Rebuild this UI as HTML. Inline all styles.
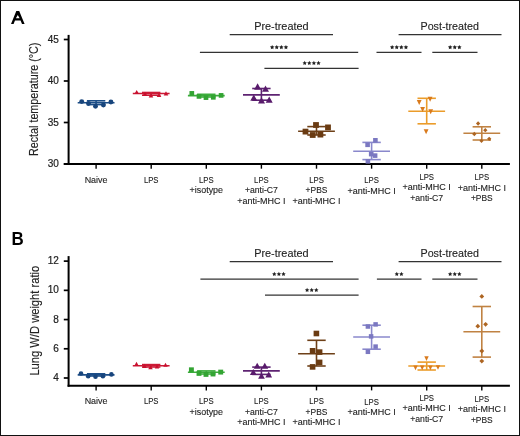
<!DOCTYPE html>
<html><head><meta charset="utf-8"><style>
html,body{margin:0;padding:0;background:#fff;}
body{width:520px;height:436px;overflow:hidden;}
svg{display:block;font-family:"Liberation Sans", sans-serif;will-change:transform;}
.tk{stroke:#222;stroke-width:0.2px;}
.cl{stroke:#222;stroke-width:0.12px;}
.yl{stroke:#222;stroke-width:0.15px;}
</style></head><body>
<svg width="520" height="436" viewBox="0 0 520 436">
<rect x="0" y="0" width="520" height="436" fill="#fff"/>
<path d="M11.0,23.9 L16.3,11.0 L19.2,11.0 L24.6,23.9 L22.0,23.9 L20.58,20.5 L15.0,20.5 L13.6,23.9 Z M17.77,15.1 L15.9,18.35 L19.65,18.35 Z" fill="#000" fill-rule="evenodd"/>
<line x1="68.6" y1="34.9" x2="68.6" y2="165.0" stroke="#000" stroke-width="2"/>
<line x1="63.8" y1="164.0" x2="509.9" y2="164.0" stroke="#000" stroke-width="2"/>
<line x1="63.8" y1="39.50" x2="68.6" y2="39.50" stroke="#000" stroke-width="1.7"/>
<text x="58.9" y="42.59999999999999" font-size="10.0" text-anchor="end" font-weight="400" fill="#222" class="tk">45</text>
<line x1="63.8" y1="81.00" x2="68.6" y2="81.00" stroke="#000" stroke-width="1.7"/>
<text x="58.9" y="84.1" font-size="10.0" text-anchor="end" font-weight="400" fill="#222" class="tk">40</text>
<line x1="63.8" y1="122.50" x2="68.6" y2="122.50" stroke="#000" stroke-width="1.7"/>
<text x="58.9" y="125.6" font-size="10.0" text-anchor="end" font-weight="400" fill="#222" class="tk">35</text>
<line x1="63.8" y1="164.00" x2="68.6" y2="164.00" stroke="#000" stroke-width="1.7"/>
<text x="58.9" y="167.1" font-size="10.0" text-anchor="end" font-weight="400" fill="#222" class="tk">30</text>
<line x1="96.1" y1="164.0" x2="96.1" y2="168.7" stroke="#000" stroke-width="1.4"/>
<line x1="151.2" y1="164.0" x2="151.2" y2="168.7" stroke="#000" stroke-width="1.4"/>
<line x1="206.3" y1="164.0" x2="206.3" y2="168.7" stroke="#000" stroke-width="1.4"/>
<line x1="261.4" y1="164.0" x2="261.4" y2="168.7" stroke="#000" stroke-width="1.4"/>
<line x1="316.5" y1="164.0" x2="316.5" y2="168.7" stroke="#000" stroke-width="1.4"/>
<line x1="371.6" y1="164.0" x2="371.6" y2="168.7" stroke="#000" stroke-width="1.4"/>
<line x1="426.7" y1="164.0" x2="426.7" y2="168.7" stroke="#000" stroke-width="1.4"/>
<line x1="481.8" y1="164.0" x2="481.8" y2="168.7" stroke="#000" stroke-width="1.4"/>
<text x="0" y="0" font-size="12.8" text-anchor="middle" fill="#222" class="yl" textLength="113.4" lengthAdjust="spacingAndGlyphs" transform="translate(38.3,99.3) rotate(-90)">Rectal temperature (°C)</text>
<text x="96.1" y="182.50" font-size="9.3" text-anchor="middle" font-weight="400" fill="#222" class="cl" textLength="22.9" lengthAdjust="spacingAndGlyphs">Naive</text>
<text x="151.2" y="182.50" font-size="9.3" text-anchor="middle" font-weight="400" fill="#222" class="cl" textLength="14.6" lengthAdjust="spacingAndGlyphs">LPS</text>
<text x="206.3" y="182.50" font-size="9.3" text-anchor="middle" font-weight="400" fill="#222" class="cl" textLength="14.6" lengthAdjust="spacingAndGlyphs">LPS</text>
<text x="206.3" y="193.00" font-size="9.3" text-anchor="middle" font-weight="400" fill="#222" class="cl" textLength="33.5" lengthAdjust="spacingAndGlyphs">+isotype</text>
<text x="261.4" y="182.50" font-size="9.3" text-anchor="middle" font-weight="400" fill="#222" class="cl" textLength="14.6" lengthAdjust="spacingAndGlyphs">LPS</text>
<text x="261.4" y="193.00" font-size="9.3" text-anchor="middle" font-weight="400" fill="#222" class="cl" textLength="33.0" lengthAdjust="spacingAndGlyphs">+anti-C7</text>
<text x="261.4" y="203.50" font-size="9.3" text-anchor="middle" font-weight="400" fill="#222" class="cl" textLength="48.2" lengthAdjust="spacingAndGlyphs">+anti-MHC I</text>
<text x="316.5" y="182.50" font-size="9.3" text-anchor="middle" font-weight="400" fill="#222" class="cl" textLength="14.6" lengthAdjust="spacingAndGlyphs">LPS</text>
<text x="316.5" y="193.00" font-size="9.3" text-anchor="middle" font-weight="400" fill="#222" class="cl" textLength="21.8" lengthAdjust="spacingAndGlyphs">+PBS</text>
<text x="316.5" y="203.50" font-size="9.3" text-anchor="middle" font-weight="400" fill="#222" class="cl" textLength="48.2" lengthAdjust="spacingAndGlyphs">+anti-MHC I</text>
<text x="371.6" y="183.10" font-size="9.3" text-anchor="middle" font-weight="400" fill="#222" class="cl" textLength="14.6" lengthAdjust="spacingAndGlyphs">LPS</text>
<text x="371.6" y="193.60" font-size="9.3" text-anchor="middle" font-weight="400" fill="#222" class="cl" textLength="48.2" lengthAdjust="spacingAndGlyphs">+anti-MHC I</text>
<text x="426.7" y="179.60" font-size="9.3" text-anchor="middle" font-weight="400" fill="#222" class="cl" textLength="14.6" lengthAdjust="spacingAndGlyphs">LPS</text>
<text x="426.7" y="190.10" font-size="9.3" text-anchor="middle" font-weight="400" fill="#222" class="cl" textLength="48.2" lengthAdjust="spacingAndGlyphs">+anti-MHC I</text>
<text x="426.7" y="200.60" font-size="9.3" text-anchor="middle" font-weight="400" fill="#222" class="cl" textLength="33.0" lengthAdjust="spacingAndGlyphs">+anti-C7</text>
<text x="481.8" y="180.30" font-size="9.3" text-anchor="middle" font-weight="400" fill="#222" class="cl" textLength="14.6" lengthAdjust="spacingAndGlyphs">LPS</text>
<text x="481.8" y="190.80" font-size="9.3" text-anchor="middle" font-weight="400" fill="#222" class="cl" textLength="48.2" lengthAdjust="spacingAndGlyphs">+anti-MHC I</text>
<text x="481.8" y="201.30" font-size="9.3" text-anchor="middle" font-weight="400" fill="#222" class="cl" textLength="21.8" lengthAdjust="spacingAndGlyphs">+PBS</text>
<line x1="77.70" y1="102.80" x2="114.50" y2="102.80" stroke="#1c4e88" stroke-width="1.6"/>
<line x1="96.10" y1="100.80" x2="96.10" y2="104.60" stroke="#1c4e88" stroke-width="1.6"/>
<line x1="86.90" y1="100.80" x2="105.30" y2="100.80" stroke="#1c4e88" stroke-width="1.6"/>
<line x1="86.90" y1="104.60" x2="105.30" y2="104.60" stroke="#1c4e88" stroke-width="1.6"/>
<circle cx="81.70" cy="101.60" r="2.45" fill="#18457c"/>
<circle cx="88.50" cy="103.50" r="2.45" fill="#18457c"/>
<circle cx="95.50" cy="106.30" r="2.45" fill="#18457c"/>
<circle cx="103.40" cy="105.00" r="2.45" fill="#18457c"/>
<circle cx="110.90" cy="102.00" r="2.45" fill="#18457c"/>
<line x1="132.80" y1="93.50" x2="169.60" y2="93.50" stroke="#cc1a36" stroke-width="1.6"/>
<line x1="151.20" y1="92.50" x2="151.20" y2="95.20" stroke="#cc1a36" stroke-width="1.6"/>
<line x1="142.00" y1="92.50" x2="160.40" y2="92.50" stroke="#cc1a36" stroke-width="1.6"/>
<line x1="142.00" y1="95.20" x2="160.40" y2="95.20" stroke="#cc1a36" stroke-width="1.6"/>
<polygon points="136.70,89.92 139.00,94.06 134.40,94.06" fill="#c8102e"/>
<polygon points="145.00,91.72 147.30,95.86 142.70,95.86" fill="#c8102e"/>
<polygon points="151.00,93.32 153.30,97.46 148.70,97.46" fill="#c8102e"/>
<polygon points="159.00,92.92 161.30,97.06 156.70,97.06" fill="#c8102e"/>
<polygon points="166.00,91.32 168.30,95.46 163.70,95.46" fill="#c8102e"/>
<line x1="187.90" y1="95.60" x2="224.70" y2="95.60" stroke="#3dad3d" stroke-width="1.6"/>
<line x1="206.30" y1="94.30" x2="206.30" y2="97.00" stroke="#3dad3d" stroke-width="1.6"/>
<line x1="197.10" y1="94.30" x2="215.50" y2="94.30" stroke="#3dad3d" stroke-width="1.6"/>
<line x1="197.10" y1="97.00" x2="215.50" y2="97.00" stroke="#3dad3d" stroke-width="1.6"/>
<rect x="189.45" y="91.05" width="4.70" height="4.70" fill="#33a433"/>
<rect x="196.65" y="94.05" width="4.70" height="4.70" fill="#33a433"/>
<rect x="203.65" y="95.25" width="4.70" height="4.70" fill="#33a433"/>
<rect x="210.95" y="94.95" width="4.70" height="4.70" fill="#33a433"/>
<rect x="218.75" y="93.05" width="4.70" height="4.70" fill="#33a433"/>
<line x1="243.00" y1="94.90" x2="279.80" y2="94.90" stroke="#5e2372" stroke-width="1.6"/>
<line x1="261.40" y1="88.50" x2="261.40" y2="100.20" stroke="#5e2372" stroke-width="1.6"/>
<line x1="252.20" y1="88.50" x2="270.60" y2="88.50" stroke="#5e2372" stroke-width="1.6"/>
<line x1="252.20" y1="100.20" x2="270.60" y2="100.20" stroke="#5e2372" stroke-width="1.6"/>
<polygon points="257.60,83.33 261.10,89.63 254.10,89.63" fill="#581a6b"/>
<polygon points="265.50,85.53 269.00,91.83 262.00,91.83" fill="#581a6b"/>
<polygon points="253.80,94.53 257.30,100.83 250.30,100.83" fill="#581a6b"/>
<polygon points="261.50,97.23 265.00,103.53 258.00,103.53" fill="#581a6b"/>
<polygon points="269.20,96.44 272.70,102.73 265.70,102.73" fill="#581a6b"/>
<line x1="298.10" y1="131.20" x2="334.90" y2="131.20" stroke="#6e4018" stroke-width="1.6"/>
<line x1="316.50" y1="126.60" x2="316.50" y2="135.00" stroke="#6e4018" stroke-width="1.6"/>
<line x1="307.30" y1="126.60" x2="325.70" y2="126.60" stroke="#6e4018" stroke-width="1.6"/>
<line x1="307.30" y1="135.00" x2="325.70" y2="135.00" stroke="#6e4018" stroke-width="1.6"/>
<rect x="313.10" y="122.10" width="5.80" height="5.80" fill="#6a3b12"/>
<rect x="325.10" y="124.50" width="5.80" height="5.80" fill="#6a3b12"/>
<rect x="302.60" y="128.70" width="5.80" height="5.80" fill="#6a3b12"/>
<rect x="309.80" y="132.10" width="5.80" height="5.80" fill="#6a3b12"/>
<rect x="317.50" y="131.70" width="5.80" height="5.80" fill="#6a3b12"/>
<line x1="353.20" y1="151.20" x2="390.00" y2="151.20" stroke="#8a88cc" stroke-width="1.6"/>
<line x1="371.60" y1="142.40" x2="371.60" y2="159.60" stroke="#8a88cc" stroke-width="1.6"/>
<line x1="362.40" y1="142.40" x2="380.80" y2="142.40" stroke="#8a88cc" stroke-width="1.6"/>
<line x1="362.40" y1="159.60" x2="380.80" y2="159.60" stroke="#8a88cc" stroke-width="1.6"/>
<rect x="373.10" y="138.00" width="4.60" height="4.60" fill="#7b78c1"/>
<rect x="365.30" y="142.50" width="4.60" height="4.60" fill="#7b78c1"/>
<rect x="368.90" y="151.80" width="4.60" height="4.60" fill="#7b78c1"/>
<rect x="372.80" y="153.30" width="4.60" height="4.60" fill="#7b78c1"/>
<rect x="365.60" y="159.00" width="4.60" height="4.60" fill="#7b78c1"/>
<line x1="408.30" y1="111.20" x2="445.10" y2="111.20" stroke="#eb9c2a" stroke-width="1.6"/>
<line x1="426.70" y1="98.30" x2="426.70" y2="123.80" stroke="#eb9c2a" stroke-width="1.6"/>
<line x1="417.50" y1="98.30" x2="435.90" y2="98.30" stroke="#eb9c2a" stroke-width="1.6"/>
<line x1="417.50" y1="123.80" x2="435.90" y2="123.80" stroke="#eb9c2a" stroke-width="1.6"/>
<polygon points="419.20,105.02 421.60,99.98 416.80,99.98" fill="#d97a1c"/>
<polygon points="430.10,101.82 432.50,96.78 427.70,96.78" fill="#d97a1c"/>
<polygon points="422.60,111.92 425.00,106.88 420.20,106.88" fill="#d97a1c"/>
<polygon points="430.70,114.22 433.10,109.18 428.30,109.18" fill="#d97a1c"/>
<polygon points="426.10,134.32 428.50,129.28 423.70,129.28" fill="#d97a1c"/>
<line x1="463.40" y1="133.30" x2="500.20" y2="133.30" stroke="#c08242" stroke-width="1.6"/>
<line x1="481.80" y1="126.80" x2="481.80" y2="140.00" stroke="#c08242" stroke-width="1.6"/>
<line x1="472.60" y1="126.80" x2="491.00" y2="126.80" stroke="#c08242" stroke-width="1.6"/>
<line x1="472.60" y1="140.00" x2="491.00" y2="140.00" stroke="#c08242" stroke-width="1.6"/>
<polygon points="478.10,121.35 480.25,123.50 478.10,125.65 475.95,123.50" fill="#ad6522"/>
<polygon points="485.30,128.05 487.45,130.20 485.30,132.35 483.15,130.20" fill="#ad6522"/>
<polygon points="474.30,131.85 476.45,134.00 474.30,136.15 472.15,134.00" fill="#ad6522"/>
<polygon points="481.50,138.65 483.65,140.80 481.50,142.95 479.35,140.80" fill="#ad6522"/>
<polygon points="489.20,136.65 491.35,138.80 489.20,140.95 487.05,138.80" fill="#ad6522"/>
<text x="281.4" y="29.7" font-size="11.4" text-anchor="middle" font-weight="400" fill="#222" class="cl" textLength="54.4" lengthAdjust="spacingAndGlyphs">Pre-treated</text>
<line x1="229.7" y1="34.6" x2="333.0" y2="34.6" stroke="#333" stroke-width="1.2"/>
<line x1="199.9" y1="52.45" x2="358.2" y2="52.45" stroke="#333" stroke-width="1.2"/>
<polygon points="272.15,45.00 272.83,46.37 274.34,46.59 273.24,47.66 273.50,49.16 272.15,48.45 270.80,49.16 271.06,47.66 269.96,46.59 271.47,46.37" fill="#222"/>
<polygon points="276.75,45.00 277.43,46.37 278.94,46.59 277.84,47.66 278.10,49.16 276.75,48.45 275.40,49.16 275.66,47.66 274.56,46.59 276.07,46.37" fill="#222"/>
<polygon points="281.35,45.00 282.03,46.37 283.54,46.59 282.44,47.66 282.70,49.16 281.35,48.45 280.00,49.16 280.26,47.66 279.16,46.59 280.67,46.37" fill="#222"/>
<polygon points="285.95,45.00 286.63,46.37 288.14,46.59 287.04,47.66 287.30,49.16 285.95,48.45 284.60,49.16 284.86,47.66 283.76,46.59 285.27,46.37" fill="#222"/>
<line x1="264.4" y1="68.3" x2="358.6" y2="68.3" stroke="#333" stroke-width="1.2"/>
<polygon points="304.70,60.80 305.38,62.17 306.89,62.39 305.79,63.46 306.05,64.96 304.70,64.25 303.35,64.96 303.61,63.46 302.51,62.39 304.02,62.17" fill="#222"/>
<polygon points="309.30,60.80 309.98,62.17 311.49,62.39 310.39,63.46 310.65,64.96 309.30,64.25 307.95,64.96 308.21,63.46 307.11,62.39 308.62,62.17" fill="#222"/>
<polygon points="313.90,60.80 314.58,62.17 316.09,62.39 314.99,63.46 315.25,64.96 313.90,64.25 312.55,64.96 312.81,63.46 311.71,62.39 313.22,62.17" fill="#222"/>
<polygon points="318.50,60.80 319.18,62.17 320.69,62.39 319.59,63.46 319.85,64.96 318.50,64.25 317.15,64.96 317.41,63.46 316.31,62.39 317.82,62.17" fill="#222"/>
<text x="449.7" y="29.9" font-size="11.4" text-anchor="middle" font-weight="400" fill="#222" class="cl" textLength="58.4" lengthAdjust="spacingAndGlyphs">Post-treated</text>
<line x1="398.6" y1="34.6" x2="501.5" y2="34.6" stroke="#333" stroke-width="1.2"/>
<line x1="376.5" y1="52.45" x2="421.5" y2="52.45" stroke="#333" stroke-width="1.2"/>
<polygon points="392.15,45.00 392.83,46.37 394.34,46.59 393.24,47.66 393.50,49.16 392.15,48.45 390.80,49.16 391.06,47.66 389.96,46.59 391.47,46.37" fill="#222"/>
<polygon points="396.75,45.00 397.43,46.37 398.94,46.59 397.84,47.66 398.10,49.16 396.75,48.45 395.40,49.16 395.66,47.66 394.56,46.59 396.07,46.37" fill="#222"/>
<polygon points="401.35,45.00 402.03,46.37 403.54,46.59 402.44,47.66 402.70,49.16 401.35,48.45 400.00,49.16 400.26,47.66 399.16,46.59 400.67,46.37" fill="#222"/>
<polygon points="405.95,45.00 406.63,46.37 408.14,46.59 407.04,47.66 407.30,49.16 405.95,48.45 404.60,49.16 404.86,47.66 403.76,46.59 405.27,46.37" fill="#222"/>
<line x1="432.3" y1="52.45" x2="477.5" y2="52.45" stroke="#333" stroke-width="1.2"/>
<polygon points="450.15,45.00 450.83,46.37 452.34,46.59 451.24,47.66 451.50,49.16 450.15,48.45 448.80,49.16 449.06,47.66 447.96,46.59 449.47,46.37" fill="#222"/>
<polygon points="454.75,45.00 455.43,46.37 456.94,46.59 455.84,47.66 456.10,49.16 454.75,48.45 453.40,49.16 453.66,47.66 452.56,46.59 454.07,46.37" fill="#222"/>
<polygon points="459.35,45.00 460.03,46.37 461.54,46.59 460.44,47.66 460.70,49.16 459.35,48.45 458.00,49.16 458.26,47.66 457.16,46.59 458.67,46.37" fill="#222"/>
<text x="0" y="0" font-size="18" font-weight="700" fill="#000" transform="translate(11.5,245.3) scale(0.94,1)">B</text>
<line x1="68.6" y1="256.1" x2="68.6" y2="386.7" stroke="#000" stroke-width="2"/>
<line x1="67.6" y1="385.7" x2="509.9" y2="385.7" stroke="#000" stroke-width="2"/>
<line x1="63.8" y1="261.12" x2="68.6" y2="261.12" stroke="#000" stroke-width="1.7"/>
<text x="58.9" y="264.22" font-size="10.0" text-anchor="end" font-weight="400" fill="#222" class="tk">12</text>
<line x1="63.8" y1="290.34" x2="68.6" y2="290.34" stroke="#000" stroke-width="1.7"/>
<text x="58.9" y="293.44000000000005" font-size="10.0" text-anchor="end" font-weight="400" fill="#222" class="tk">10</text>
<line x1="63.8" y1="319.56" x2="68.6" y2="319.56" stroke="#000" stroke-width="1.7"/>
<text x="58.9" y="322.66" font-size="10.0" text-anchor="end" font-weight="400" fill="#222" class="tk">8</text>
<line x1="63.8" y1="348.78" x2="68.6" y2="348.78" stroke="#000" stroke-width="1.7"/>
<text x="58.9" y="351.88" font-size="10.0" text-anchor="end" font-weight="400" fill="#222" class="tk">6</text>
<line x1="63.8" y1="378.00" x2="68.6" y2="378.00" stroke="#000" stroke-width="1.7"/>
<text x="58.9" y="381.1" font-size="10.0" text-anchor="end" font-weight="400" fill="#222" class="tk">4</text>
<line x1="96.1" y1="385.7" x2="96.1" y2="390.4" stroke="#000" stroke-width="1.4"/>
<line x1="151.2" y1="385.7" x2="151.2" y2="390.4" stroke="#000" stroke-width="1.4"/>
<line x1="206.3" y1="385.7" x2="206.3" y2="390.4" stroke="#000" stroke-width="1.4"/>
<line x1="261.4" y1="385.7" x2="261.4" y2="390.4" stroke="#000" stroke-width="1.4"/>
<line x1="316.5" y1="385.7" x2="316.5" y2="390.4" stroke="#000" stroke-width="1.4"/>
<line x1="371.6" y1="385.7" x2="371.6" y2="390.4" stroke="#000" stroke-width="1.4"/>
<line x1="426.7" y1="385.7" x2="426.7" y2="390.4" stroke="#000" stroke-width="1.4"/>
<line x1="481.8" y1="385.7" x2="481.8" y2="390.4" stroke="#000" stroke-width="1.4"/>
<text x="0" y="0" font-size="12.8" text-anchor="middle" fill="#222" class="yl" textLength="109.8" lengthAdjust="spacingAndGlyphs" transform="translate(38.5,320.70000000000005) rotate(-90)">Lung W/D weight ratio</text>
<text x="96.1" y="404.40" font-size="9.3" text-anchor="middle" font-weight="400" fill="#222" class="cl" textLength="22.9" lengthAdjust="spacingAndGlyphs">Naive</text>
<text x="151.2" y="404.40" font-size="9.3" text-anchor="middle" font-weight="400" fill="#222" class="cl" textLength="14.6" lengthAdjust="spacingAndGlyphs">LPS</text>
<text x="206.3" y="404.40" font-size="9.3" text-anchor="middle" font-weight="400" fill="#222" class="cl" textLength="14.6" lengthAdjust="spacingAndGlyphs">LPS</text>
<text x="206.3" y="414.90" font-size="9.3" text-anchor="middle" font-weight="400" fill="#222" class="cl" textLength="33.5" lengthAdjust="spacingAndGlyphs">+isotype</text>
<text x="261.4" y="404.40" font-size="9.3" text-anchor="middle" font-weight="400" fill="#222" class="cl" textLength="14.6" lengthAdjust="spacingAndGlyphs">LPS</text>
<text x="261.4" y="414.90" font-size="9.3" text-anchor="middle" font-weight="400" fill="#222" class="cl" textLength="33.0" lengthAdjust="spacingAndGlyphs">+anti-C7</text>
<text x="261.4" y="425.40" font-size="9.3" text-anchor="middle" font-weight="400" fill="#222" class="cl" textLength="48.2" lengthAdjust="spacingAndGlyphs">+anti-MHC I</text>
<text x="316.5" y="404.40" font-size="9.3" text-anchor="middle" font-weight="400" fill="#222" class="cl" textLength="14.6" lengthAdjust="spacingAndGlyphs">LPS</text>
<text x="316.5" y="414.90" font-size="9.3" text-anchor="middle" font-weight="400" fill="#222" class="cl" textLength="21.8" lengthAdjust="spacingAndGlyphs">+PBS</text>
<text x="316.5" y="425.40" font-size="9.3" text-anchor="middle" font-weight="400" fill="#222" class="cl" textLength="48.2" lengthAdjust="spacingAndGlyphs">+anti-MHC I</text>
<text x="371.6" y="404.60" font-size="9.3" text-anchor="middle" font-weight="400" fill="#222" class="cl" textLength="14.6" lengthAdjust="spacingAndGlyphs">LPS</text>
<text x="371.6" y="415.10" font-size="9.3" text-anchor="middle" font-weight="400" fill="#222" class="cl" textLength="48.2" lengthAdjust="spacingAndGlyphs">+anti-MHC I</text>
<text x="426.7" y="400.90" font-size="9.3" text-anchor="middle" font-weight="400" fill="#222" class="cl" textLength="14.6" lengthAdjust="spacingAndGlyphs">LPS</text>
<text x="426.7" y="411.40" font-size="9.3" text-anchor="middle" font-weight="400" fill="#222" class="cl" textLength="48.2" lengthAdjust="spacingAndGlyphs">+anti-MHC I</text>
<text x="426.7" y="421.90" font-size="9.3" text-anchor="middle" font-weight="400" fill="#222" class="cl" textLength="33.0" lengthAdjust="spacingAndGlyphs">+anti-C7</text>
<text x="481.8" y="401.50" font-size="9.3" text-anchor="middle" font-weight="400" fill="#222" class="cl" textLength="14.6" lengthAdjust="spacingAndGlyphs">LPS</text>
<text x="481.8" y="412.00" font-size="9.3" text-anchor="middle" font-weight="400" fill="#222" class="cl" textLength="48.2" lengthAdjust="spacingAndGlyphs">+anti-MHC I</text>
<text x="481.8" y="422.50" font-size="9.3" text-anchor="middle" font-weight="400" fill="#222" class="cl" textLength="21.8" lengthAdjust="spacingAndGlyphs">+PBS</text>
<line x1="77.70" y1="374.90" x2="114.50" y2="374.90" stroke="#1c4e88" stroke-width="1.6"/>
<line x1="96.10" y1="373.80" x2="96.10" y2="376.00" stroke="#1c4e88" stroke-width="1.6"/>
<line x1="86.90" y1="373.80" x2="105.30" y2="373.80" stroke="#1c4e88" stroke-width="1.6"/>
<line x1="86.90" y1="376.00" x2="105.30" y2="376.00" stroke="#1c4e88" stroke-width="1.6"/>
<circle cx="81.00" cy="373.50" r="2.30" fill="#18457c"/>
<circle cx="88.20" cy="376.30" r="2.30" fill="#18457c"/>
<circle cx="95.50" cy="376.70" r="2.30" fill="#18457c"/>
<circle cx="102.90" cy="376.30" r="2.30" fill="#18457c"/>
<circle cx="111.40" cy="374.40" r="2.30" fill="#18457c"/>
<line x1="132.80" y1="365.80" x2="169.60" y2="365.80" stroke="#cc1a36" stroke-width="1.6"/>
<line x1="151.20" y1="364.60" x2="151.20" y2="367.00" stroke="#cc1a36" stroke-width="1.6"/>
<line x1="142.00" y1="364.60" x2="160.40" y2="364.60" stroke="#cc1a36" stroke-width="1.6"/>
<line x1="142.00" y1="367.00" x2="160.40" y2="367.00" stroke="#cc1a36" stroke-width="1.6"/>
<polygon points="136.50,361.87 138.75,365.92 134.25,365.92" fill="#c8102e"/>
<polygon points="144.50,363.87 146.75,367.92 142.25,367.92" fill="#c8102e"/>
<polygon points="150.50,365.17 152.75,369.22 148.25,369.22" fill="#c8102e"/>
<polygon points="157.00,364.37 159.25,368.42 154.75,368.42" fill="#c8102e"/>
<polygon points="165.50,362.67 167.75,366.72 163.25,366.72" fill="#c8102e"/>
<line x1="187.90" y1="372.20" x2="224.70" y2="372.20" stroke="#3dad3d" stroke-width="1.6"/>
<line x1="206.30" y1="370.90" x2="206.30" y2="374.00" stroke="#3dad3d" stroke-width="1.6"/>
<line x1="197.10" y1="370.90" x2="215.50" y2="370.90" stroke="#3dad3d" stroke-width="1.6"/>
<line x1="197.10" y1="374.00" x2="215.50" y2="374.00" stroke="#3dad3d" stroke-width="1.6"/>
<rect x="188.95" y="367.35" width="4.90" height="4.90" fill="#33a433"/>
<rect x="196.55" y="370.95" width="4.90" height="4.90" fill="#33a433"/>
<rect x="203.55" y="371.95" width="4.90" height="4.90" fill="#33a433"/>
<rect x="210.55" y="371.55" width="4.90" height="4.90" fill="#33a433"/>
<rect x="218.25" y="369.65" width="4.90" height="4.90" fill="#33a433"/>
<line x1="243.00" y1="370.90" x2="279.80" y2="370.90" stroke="#5e2372" stroke-width="1.6"/>
<line x1="261.40" y1="367.10" x2="261.40" y2="374.40" stroke="#5e2372" stroke-width="1.6"/>
<line x1="252.20" y1="367.10" x2="270.60" y2="367.10" stroke="#5e2372" stroke-width="1.6"/>
<line x1="252.20" y1="374.40" x2="270.60" y2="374.40" stroke="#5e2372" stroke-width="1.6"/>
<polygon points="257.20,362.73 260.60,368.85 253.80,368.85" fill="#581a6b"/>
<polygon points="264.80,362.73 268.20,368.85 261.40,368.85" fill="#581a6b"/>
<polygon points="253.30,368.93 256.70,375.05 249.90,375.05" fill="#581a6b"/>
<polygon points="261.50,372.63 264.90,378.75 258.10,378.75" fill="#581a6b"/>
<polygon points="268.70,371.43 272.10,377.55 265.30,377.55" fill="#581a6b"/>
<line x1="298.10" y1="353.70" x2="334.90" y2="353.70" stroke="#6e4018" stroke-width="1.6"/>
<line x1="316.50" y1="340.30" x2="316.50" y2="366.00" stroke="#6e4018" stroke-width="1.6"/>
<line x1="307.30" y1="340.30" x2="325.70" y2="340.30" stroke="#6e4018" stroke-width="1.6"/>
<line x1="307.30" y1="366.00" x2="325.70" y2="366.00" stroke="#6e4018" stroke-width="1.6"/>
<rect x="313.60" y="330.70" width="5.60" height="5.60" fill="#6a3b12"/>
<rect x="309.80" y="348.00" width="5.60" height="5.60" fill="#6a3b12"/>
<rect x="316.80" y="349.30" width="5.60" height="5.60" fill="#6a3b12"/>
<rect x="316.80" y="359.60" width="5.60" height="5.60" fill="#6a3b12"/>
<rect x="309.80" y="364.10" width="5.60" height="5.60" fill="#6a3b12"/>
<line x1="353.20" y1="337.00" x2="390.00" y2="337.00" stroke="#8a88cc" stroke-width="1.6"/>
<line x1="371.60" y1="325.20" x2="371.60" y2="349.20" stroke="#8a88cc" stroke-width="1.6"/>
<line x1="362.40" y1="325.20" x2="380.80" y2="325.20" stroke="#8a88cc" stroke-width="1.6"/>
<line x1="362.40" y1="349.20" x2="380.80" y2="349.20" stroke="#8a88cc" stroke-width="1.6"/>
<rect x="373.35" y="322.15" width="4.50" height="4.50" fill="#7b78c1"/>
<rect x="365.65" y="324.25" width="4.50" height="4.50" fill="#7b78c1"/>
<rect x="368.85" y="334.15" width="4.50" height="4.50" fill="#7b78c1"/>
<rect x="373.35" y="344.35" width="4.50" height="4.50" fill="#7b78c1"/>
<rect x="365.65" y="349.55" width="4.50" height="4.50" fill="#7b78c1"/>
<line x1="408.30" y1="366.00" x2="445.10" y2="366.00" stroke="#eb9c2a" stroke-width="1.6"/>
<line x1="426.70" y1="362.10" x2="426.70" y2="370.00" stroke="#eb9c2a" stroke-width="1.6"/>
<line x1="417.50" y1="362.10" x2="435.90" y2="362.10" stroke="#eb9c2a" stroke-width="1.6"/>
<line x1="417.50" y1="370.00" x2="435.90" y2="370.00" stroke="#eb9c2a" stroke-width="1.6"/>
<polygon points="426.50,360.97 428.70,356.35 424.30,356.35" fill="#d97a1c"/>
<polygon points="415.50,370.17 417.70,365.55 413.30,365.55" fill="#d97a1c"/>
<polygon points="422.20,370.17 424.40,365.55 420.00,365.55" fill="#d97a1c"/>
<polygon points="430.40,370.17 432.60,365.55 428.20,365.55" fill="#d97a1c"/>
<polygon points="438.00,369.77 440.20,365.15 435.80,365.15" fill="#d97a1c"/>
<line x1="463.40" y1="331.80" x2="500.20" y2="331.80" stroke="#c08242" stroke-width="1.6"/>
<line x1="481.80" y1="306.50" x2="481.80" y2="357.10" stroke="#c08242" stroke-width="1.6"/>
<line x1="472.60" y1="306.50" x2="491.00" y2="306.50" stroke="#c08242" stroke-width="1.6"/>
<line x1="472.60" y1="357.10" x2="491.00" y2="357.10" stroke="#c08242" stroke-width="1.6"/>
<polygon points="481.80,294.00 484.20,296.40 481.80,298.80 479.40,296.40" fill="#ad6522"/>
<polygon points="477.80,323.80 480.20,326.20 477.80,328.60 475.40,326.20" fill="#ad6522"/>
<polygon points="485.60,321.90 488.00,324.30 485.60,326.70 483.20,324.30" fill="#ad6522"/>
<polygon points="481.80,348.60 484.20,351.00 481.80,353.40 479.40,351.00" fill="#ad6522"/>
<polygon points="481.80,358.70 484.20,361.10 481.80,363.50 479.40,361.10" fill="#ad6522"/>
<text x="281.4" y="256.6" font-size="11.4" text-anchor="middle" font-weight="400" fill="#222" class="cl" textLength="54.4" lengthAdjust="spacingAndGlyphs">Pre-treated</text>
<line x1="229.7" y1="261.6" x2="333.0" y2="261.6" stroke="#333" stroke-width="1.2"/>
<line x1="200.4" y1="279.2" x2="358.6" y2="279.2" stroke="#333" stroke-width="1.2"/>
<polygon points="274.30,271.80 274.98,273.17 276.49,273.39 275.39,274.46 275.65,275.96 274.30,275.25 272.95,275.96 273.21,274.46 272.11,273.39 273.62,273.17" fill="#222"/>
<polygon points="278.90,271.80 279.58,273.17 281.09,273.39 279.99,274.46 280.25,275.96 278.90,275.25 277.55,275.96 277.81,274.46 276.71,273.39 278.22,273.17" fill="#222"/>
<polygon points="283.50,271.80 284.18,273.17 285.69,273.39 284.59,274.46 284.85,275.96 283.50,275.25 282.15,275.96 282.41,274.46 281.31,273.39 282.82,273.17" fill="#222"/>
<line x1="265.0" y1="295.2" x2="358.6" y2="295.2" stroke="#333" stroke-width="1.2"/>
<polygon points="307.10,287.80 307.78,289.17 309.29,289.39 308.19,290.46 308.45,291.96 307.10,291.25 305.75,291.96 306.01,290.46 304.91,289.39 306.42,289.17" fill="#222"/>
<polygon points="311.70,287.80 312.38,289.17 313.89,289.39 312.79,290.46 313.05,291.96 311.70,291.25 310.35,291.96 310.61,290.46 309.51,289.39 311.02,289.17" fill="#222"/>
<polygon points="316.30,287.80 316.98,289.17 318.49,289.39 317.39,290.46 317.65,291.96 316.30,291.25 314.95,291.96 315.21,290.46 314.11,289.39 315.62,289.17" fill="#222"/>
<text x="449.7" y="256.6" font-size="11.4" text-anchor="middle" font-weight="400" fill="#222" class="cl" textLength="58.4" lengthAdjust="spacingAndGlyphs">Post-treated</text>
<line x1="398.6" y1="261.6" x2="501.5" y2="261.6" stroke="#333" stroke-width="1.2"/>
<line x1="376.9" y1="279.2" x2="421.5" y2="279.2" stroke="#333" stroke-width="1.2"/>
<polygon points="396.80,271.80 397.48,273.17 398.99,273.39 397.89,274.46 398.15,275.96 396.80,275.25 395.45,275.96 395.71,274.46 394.61,273.39 396.12,273.17" fill="#222"/>
<polygon points="401.40,271.80 402.08,273.17 403.59,273.39 402.49,274.46 402.75,275.96 401.40,275.25 400.05,275.96 400.31,274.46 399.21,273.39 400.72,273.17" fill="#222"/>
<line x1="432.3" y1="279.2" x2="477.5" y2="279.2" stroke="#333" stroke-width="1.2"/>
<polygon points="450.15,271.80 450.83,273.17 452.34,273.39 451.24,274.46 451.50,275.96 450.15,275.25 448.80,275.96 449.06,274.46 447.96,273.39 449.47,273.17" fill="#222"/>
<polygon points="454.75,271.80 455.43,273.17 456.94,273.39 455.84,274.46 456.10,275.96 454.75,275.25 453.40,275.96 453.66,274.46 452.56,273.39 454.07,273.17" fill="#222"/>
<polygon points="459.35,271.80 460.03,273.17 461.54,273.39 460.44,274.46 460.70,275.96 459.35,275.25 458.00,275.96 458.26,274.46 457.16,273.39 458.67,273.17" fill="#222"/>
<rect x="0.5" y="0.5" width="519" height="435" fill="none" stroke="#111" stroke-width="1"/>
</svg>
</body></html>
